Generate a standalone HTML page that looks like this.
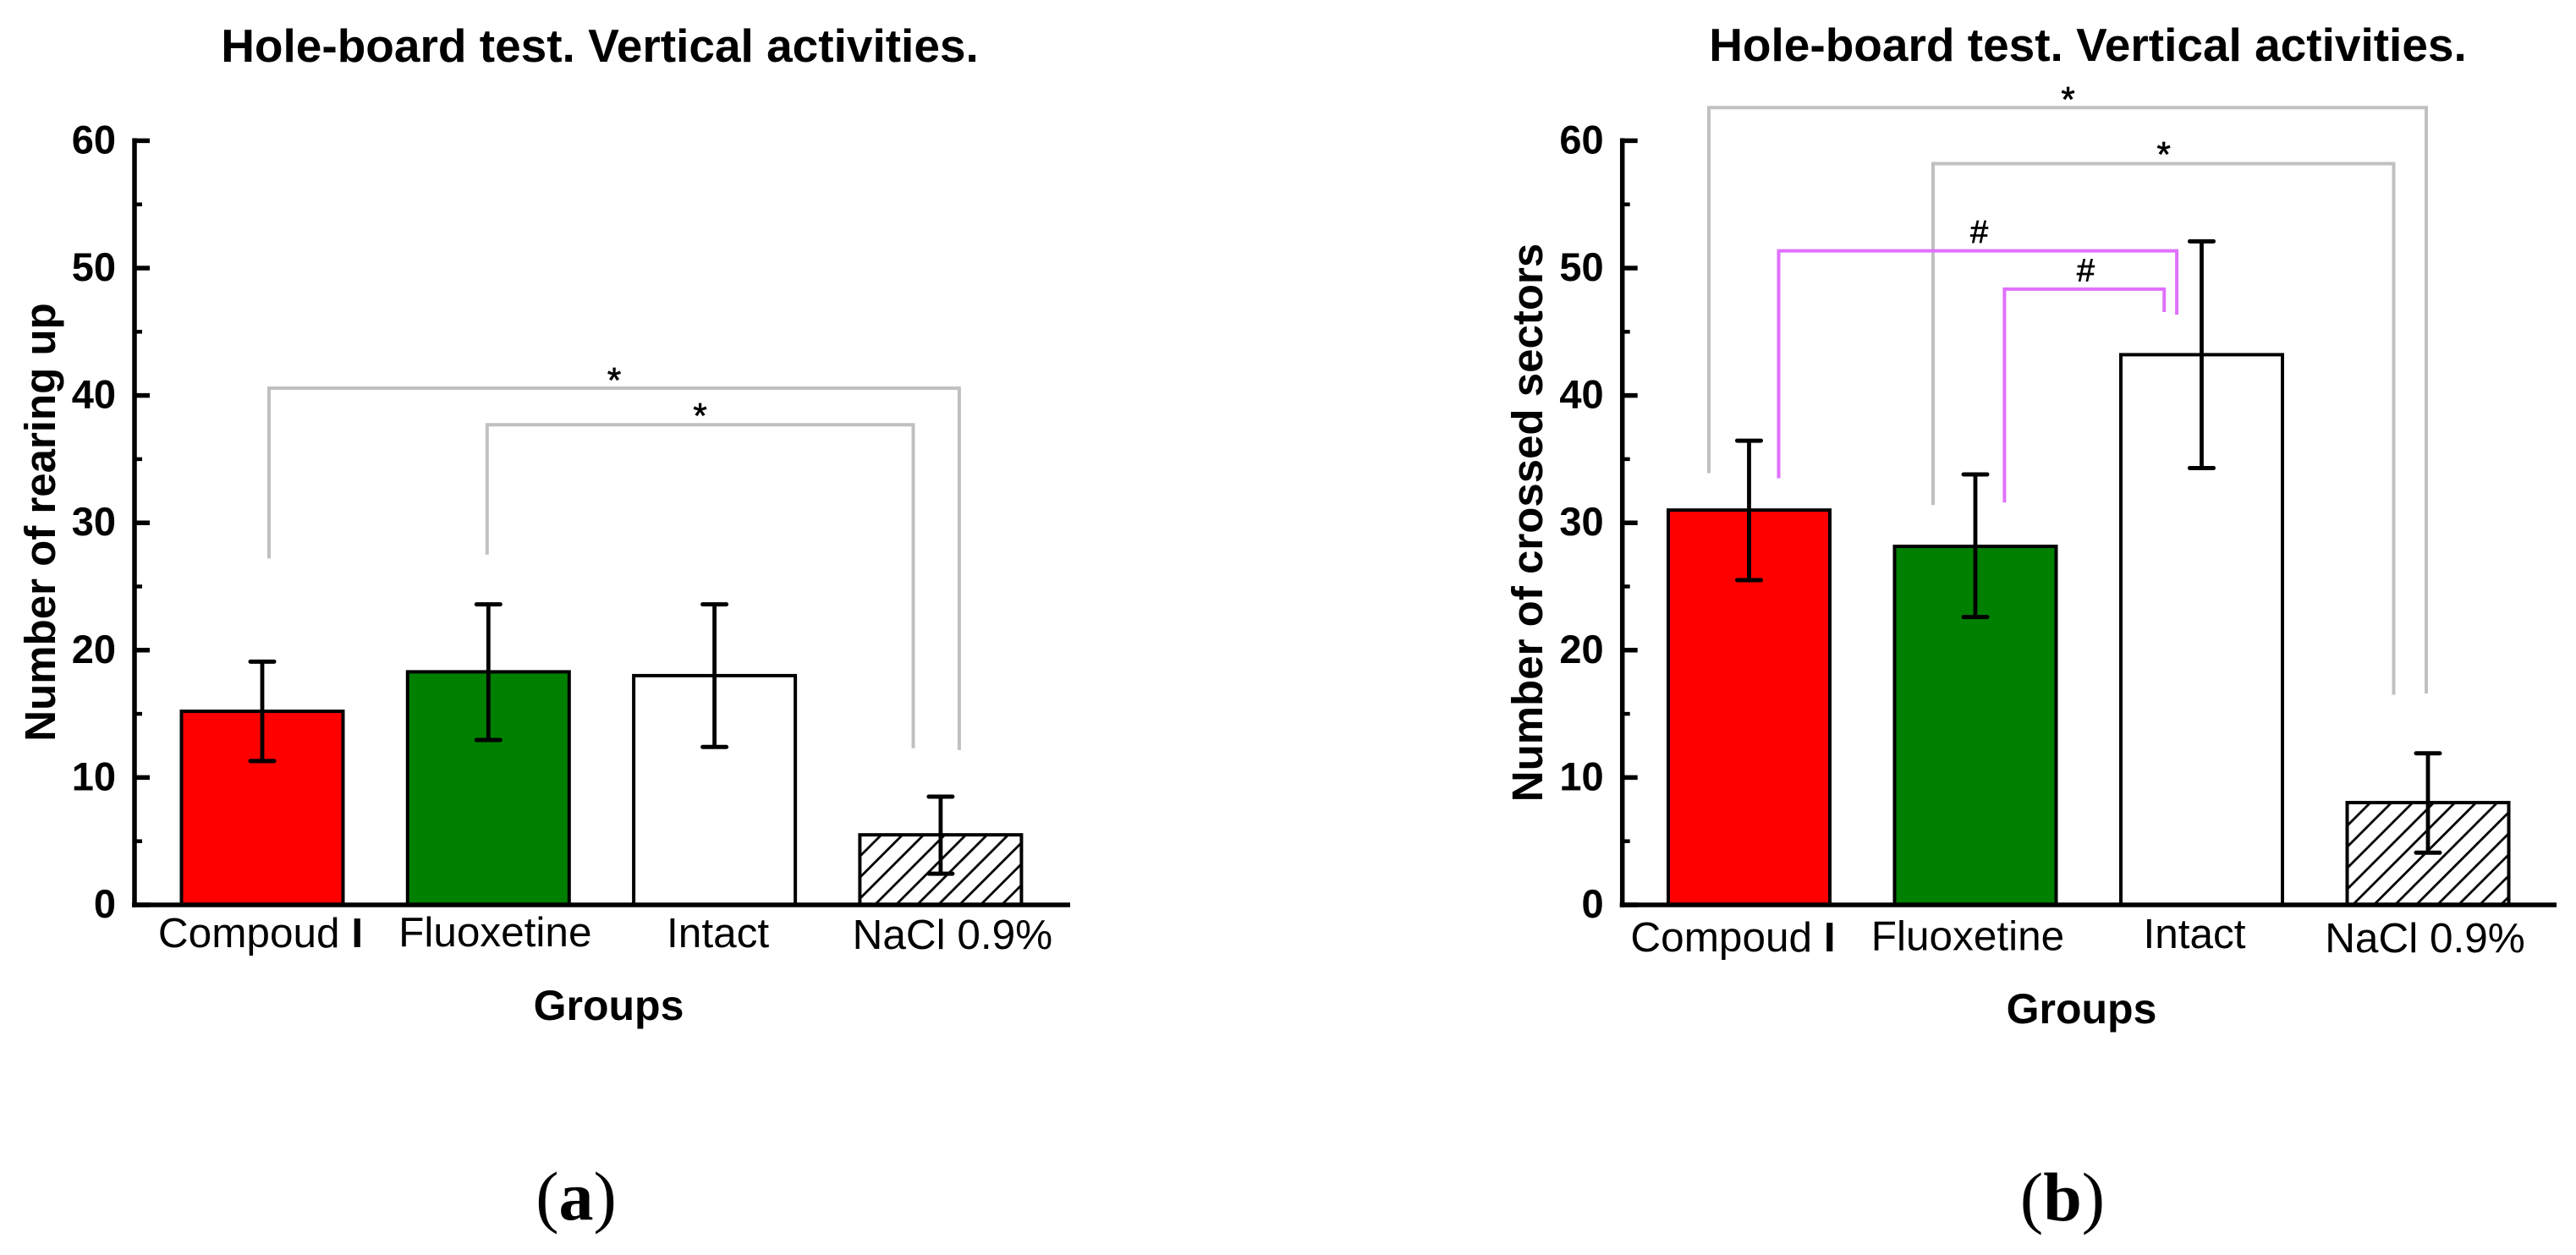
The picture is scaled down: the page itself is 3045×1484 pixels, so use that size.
<!DOCTYPE html>
<html lang="en">
<head>
<meta charset="utf-8">
<title>Hole-board test. Vertical activities.</title>
<style>
html,body{margin:0;padding:0;background:#fff;}
svg{display:block;}
text{font-family:"Liberation Sans",Arial,sans-serif;fill:#000;}
.title{font-size:55px;font-weight:bold;text-anchor:middle;}
.ytitle{font-size:51px;font-weight:bold;text-anchor:middle;}
.xtitle{font-size:50px;font-weight:bold;text-anchor:middle;}
.panel{font-family:"Liberation Serif",serif;font-size:82px;text-anchor:middle;}
.ytick{font-size:47px;font-weight:bold;text-anchor:end;}
.xtick{font-size:49.5px;text-anchor:middle;}
.sig{font-size:42px;text-anchor:middle;stroke:#000;stroke-width:0.7px;}
</style>
</head>
<body>
<svg id="figure" xmlns="http://www.w3.org/2000/svg" width="3045" height="1484" viewBox="0 0 3045 1484">
  <defs>
    <pattern id="hatch-a" patternUnits="userSpaceOnUse" width="25" height="25" patternTransform="translate(4 0)">
      <path d="M-5 5L5 -5M0 25L25 0M20 30L30 20" stroke="#000" stroke-width="2.8" fill="none"/>
    </pattern>
    <pattern id="hatch-b" patternUnits="userSpaceOnUse" width="25" height="25" patternTransform="translate(1 0)">
      <path d="M-5 5L5 -5M0 25L25 0M20 30L30 20" stroke="#000" stroke-width="2.8" fill="none"/>
    </pattern>
  </defs>
  <rect width="3045" height="1484" fill="#fff"/>

  <g id="chart-a"></g>
  <g id="chart-b"></g>

  <text class="title" x="709" y="73">Hole-board test. Vertical activities.</text>
  <text class="title" x="2468" y="72">Hole-board test. Vertical activities.</text>

  <text class="ytitle" transform="translate(65 617.5) rotate(-90)">Number of rearing up</text>
  <text class="ytitle" transform="translate(1823 618) rotate(-90)">Number of crossed sectors</text>

  <text class="xtitle" x="719.5" y="1206">Groups</text>
  <text class="xtitle" x="2460.5" y="1210">Groups</text>

  <text class="panel" x="681" y="1442">(<tspan font-weight="bold">a</tspan>)</text>
  <text class="panel" x="2438" y="1443">(<tspan font-weight="bold">b</tspan>)</text>

  <text class="sig" x="726" y="464">*</text>
  <text class="sig" x="827.5" y="506">*</text>
  <text class="sig" x="2444.6" y="132">*</text>
  <text class="sig" x="2557.7" y="197">*</text>
  <text class="sig" style="font-size:38px" x="2339.6" y="287">#</text>
  <text class="sig" style="font-size:38px" x="2465.5" y="332.5">#</text>
</svg>

<script>
const categories = ["Compoud I", "Fluoxetine", "Intact", "NaCl 0.9%"];
const yTickLabels = [0, 10, 20, 30, 40, 50, 60];
const yMinorTicks = [5, 15, 25, 35, 45, 55];

const meansA = [15.2, 18.3, 18.0, 5.5];
const errHighA = [19.1, 23.6, 23.6, 8.5];
const errLowA = [11.3, 12.95, 12.4, 2.45];

const meansB = [31.0, 28.15, 43.2, 8.03];
const errHighB = [36.45, 33.8, 52.1, 11.9];
const errLowB = [25.5, 22.6, 34.3, 4.1];

const barFills = ["#ff0000", "#008000", "#ffffff", "hatch"];

const NS = "http://www.w3.org/2000/svg";
const BASE_Y = 1070;
const UNIT = 15.06;
function yScale(v) { return BASE_Y - v * UNIT; }

function make(parent, tag, props) {
  const el = document.createElementNS(NS, tag);
  for (const k in props) el.setAttribute(k, props[k]);
  parent.appendChild(el);
  return el;
}

function drawChart(id, means, errHigh, errLow, layout) {
  const root = document.getElementById("chart-" + id);
  const xScale = function (i) { return layout.x0 + i * layout.step; };

  means.forEach(function (v, i) {
    const cx = xScale(i);
    const fill = barFills[i] === "hatch" ? "url(#hatch-" + id + ")" : barFills[i];
    const bar = make(root, "rect", {
      x: cx - 95.5, y: yScale(v), width: 191, height: BASE_Y - yScale(v),
      fill: fill, stroke: "#000", "stroke-width": 4
    });
    
    
  });

  errHigh.forEach(function (hi, i) {
    const cx = xScale(i);
    const lo = errLow[i];
    const stem = make(root, "line", {
      x1: cx, x2: cx, y1: yScale(hi), y2: yScale(lo), stroke: "#000", "stroke-width": 4.8
    });
    
    
    const capTop = make(root, "line", {
      x1: cx - 14, x2: cx + 14, y1: yScale(hi), y2: yScale(hi), stroke: "#000", "stroke-width": 5,
      "stroke-linecap": "round"
    });
    
    
    const capBottom = make(root, "line", {
      x1: cx - 14, x2: cx + 14, y1: yScale(lo), y2: yScale(lo), stroke: "#000", "stroke-width": 5,
      "stroke-linecap": "round"
    });
    
    
  });

  const yAxis = make(root, "line", {
    x1: layout.axisX, x2: layout.axisX, y1: yScale(60) - 3, y2: BASE_Y + 3, stroke: "#000", "stroke-width": 5.5
  });
  
  

  const xAxis = make(root, "line", {
    x1: layout.axisX - 3, x2: layout.axisEnd, y1: BASE_Y, y2: BASE_Y, stroke: "#000", "stroke-width": 5.5
  });
  
  

  yTickLabels.forEach(function (t) {
    const tick = make(root, "line", {
      x1: layout.axisX, x2: layout.axisX + 18, y1: yScale(t), y2: yScale(t), stroke: "#000", "stroke-width": 5.5
    });
    
    
    const label = make(root, "text", { class: "ytick", x: layout.axisX - 22, y: yScale(t) + 15 });
    label.textContent = String(t);
    
    
  });

  yMinorTicks.forEach(function (t) {
    const minor = make(root, "line", {
      x1: layout.axisX, x2: layout.axisX + 9, y1: yScale(t), y2: yScale(t), stroke: "#000", "stroke-width": 4.5
    });
    
    
  });

  categories.forEach(function (name, i) {
    const label = make(root, "text", {
      class: "xtick",
      x: xScale(i) + layout.labelDx[i],
      y: layout.labelY[i]
    });
    if (/ I$/.test(name)) {
      label.appendChild(document.createTextNode(name.slice(0, -1)));
      const bold = make(label, "tspan", { "font-weight": "bold" });
      bold.textContent = "I";
    } else {
      label.textContent = name;
    }
    
    
  });

  layout.brackets.forEach(function (b, i) {
    const xl = xScale(b.from) + b.dxFrom;
    const xr = xScale(b.to) + b.dxTo;
    const d = "M" + xl + " " + yScale(b.leftEnd) + "V" + yScale(b.top) + "H" + xr + "V" + yScale(b.rightEnd);
    const bracket = make(root, "path", {
      d: d, fill: "none", stroke: b.color, "stroke-width": 4
    });
    
    
  });
}

const GRAY = "#c0c0c0";
const MAGENTA = "#e070ff";

drawChart("a", meansA, errHighA, errLowA, {
  x0: 310, step: 267.3, axisX: 159, axisEnd: 1265,
  labelDx: [-2, 8, 4, 14],
  labelY: [1120, 1119, 1120, 1122],
  brackets: [
    { from: 0, to: 3, dxFrom: 8, dxTo: 22, top: 40.57, leftEnd: 27.2, rightEnd: 12.15, color: GRAY },
    { from: 1, to: 3, dxFrom: -1.5, dxTo: -32.4, top: 37.7, leftEnd: 27.5, rightEnd: 12.3, color: GRAY }
  ]
});

drawChart("b", meansB, errHighB, errLowB, {
  x0: 2067.5, step: 267.5, axisX: 1917.7, axisEnd: 3022,
  labelDx: [-19, -9, -8.5, -3.5],
  labelY: [1125, 1123.5, 1121, 1126],
  brackets: [
    { from: 0, to: 3, dxFrom: -47.5, dxTo: -2, top: 62.6, leftEnd: 33.9, rightEnd: 16.6, color: GRAY },
    { from: 1, to: 3, dxFrom: -50, dxTo: -40.5, top: 58.2, leftEnd: 31.4, rightEnd: 16.5, color: GRAY },
    { from: 0, to: 2, dxFrom: 35, dxTo: -29.4, top: 51.35, leftEnd: 33.5, rightEnd: 46.35, color: MAGENTA },
    { from: 1, to: 2, dxFrom: 34.4, dxTo: -44.3, top: 48.35, leftEnd: 31.6, rightEnd: 46.55, color: MAGENTA }
  ]
});
</script>
</body>
</html>
